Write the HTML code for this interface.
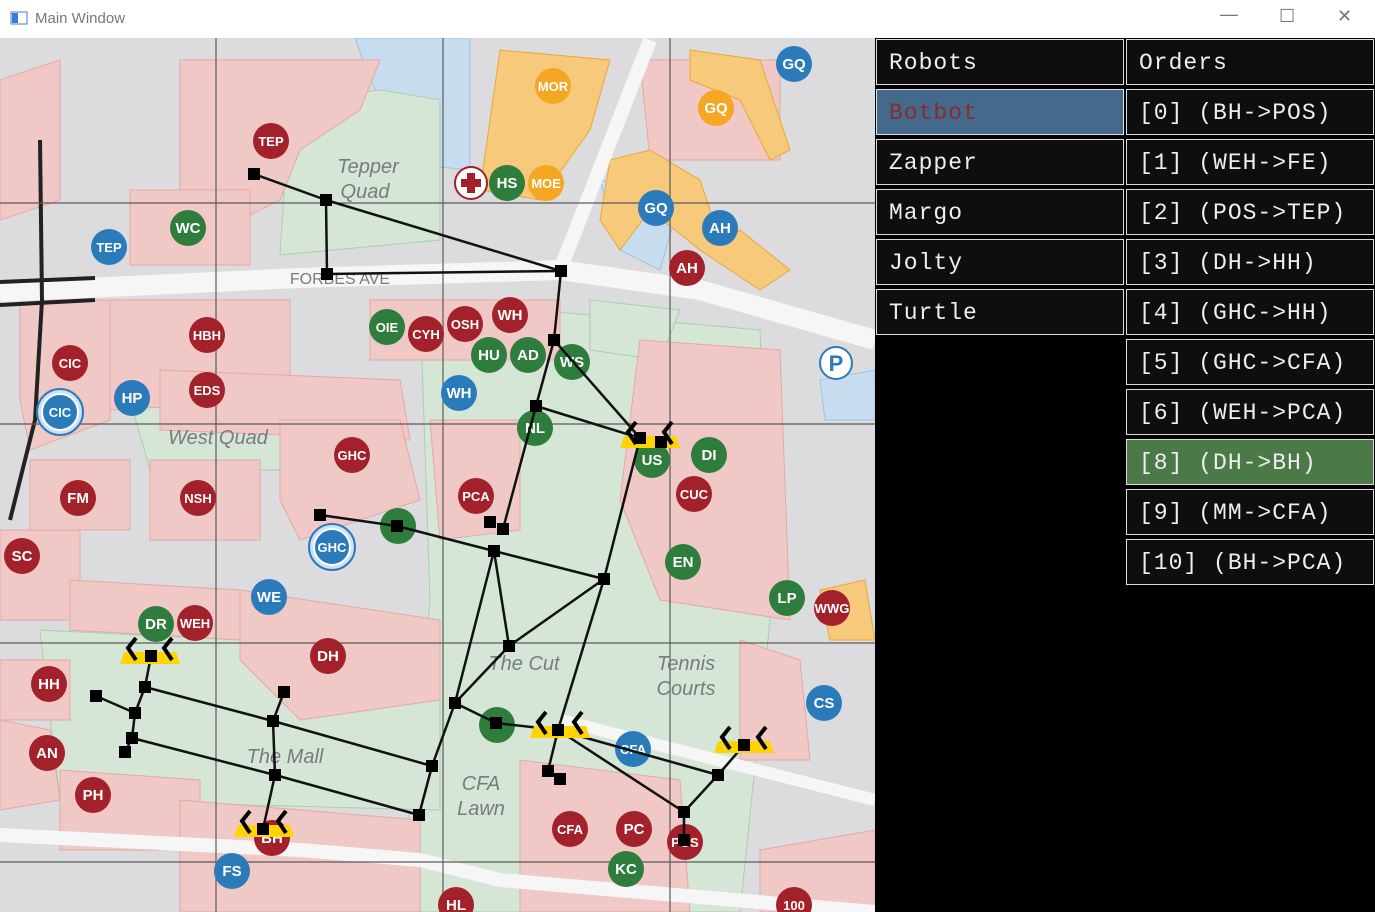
<!DOCTYPE html>
<html><head><meta charset="utf-8"><style>
body{margin:0;width:1375px;height:912px;overflow:hidden;background:#fff;font-family:"Liberation Sans",sans-serif}
#title{position:absolute;left:0;top:0;width:1375px;height:38px;background:#fff}
#title span{position:absolute;left:35px;top:10px;font-size:15px;color:#777}
#map{position:absolute;left:0;top:38px}
#panel{position:absolute;left:875px;top:38px;width:500px;height:874px;background:#000}
.cell{position:absolute;height:46px;background:#0e0e0e;border:1px solid #ddd;color:#eee;font-family:"Liberation Mono",monospace;font-size:23px;line-height:46px;padding-left:12px;box-sizing:border-box;letter-spacing:1px}
</style></head><body>
<div id="title">
<svg width="20" height="16" style="position:absolute;left:10px;top:11px"><rect x="1" y="1" width="16" height="12" fill="none" stroke="#3a7bd5"/><rect x="2" y="2" width="6" height="10" fill="#3a7bd5"/></svg>
<span>Main Window</span>
<span style="left:1220px;top:4px;font-size:18px">—</span>
<span style="left:1279px;top:6px;font-size:18px">☐</span>
<span style="left:1337px;top:6px;font-size:18px">✕</span>
</div>
<svg id="map" width="875" height="874" viewBox="0 38 875 874">
<rect x="0" y="38" width="875" height="874" fill="#dcdcde"/>
<g fill="#c8dcef" stroke="#9cc3e3"><polygon points="355,38 470,38 470,170 420,165 370,80"/><polygon points="600,180 680,200 660,270 620,250"/><polygon points="820,380 875,370 875,420 825,420"/><polygon points="560,720 710,740 705,770 560,750"/></g>
<g fill="#d5e6d7" stroke="#a8d0ad"><polygon points="290,100 380,90 440,100 440,240 280,255"/><polygon points="130,400 330,410 320,470 150,470"/><polygon points="420,300 760,330 770,620 740,912 400,912 430,600"/><polygon points="40,630 440,650 440,810 60,800"/><polygon points="590,300 680,310 660,360 590,350"/></g>
<g fill="#f0c9c6" stroke="#e4a9a4">
<polygon points="180,60 380,60 360,110 300,150 280,200 250,215 180,200"/>
<polygon points="130,190 250,190 250,265 130,265"/>
<polygon points="20,300 110,300 110,420 30,450 20,400"/>
<polygon points="110,300 290,300 290,400 110,410"/>
<polygon points="160,370 400,380 410,440 160,430"/>
<polygon points="30,460 130,460 130,530 30,530"/>
<polygon points="150,460 260,460 260,540 150,540"/>
<polygon points="280,420 400,420 420,500 300,540 280,500"/>
<polygon points="0,530 80,530 80,620 0,620"/>
<polygon points="70,580 240,590 240,640 70,630"/>
<polygon points="240,590 440,620 440,700 300,720 240,660"/>
<polygon points="0,660 70,660 70,720 0,720"/>
<polygon points="0,720 50,730 60,800 0,810"/>
<polygon points="60,770 200,780 200,850 60,850"/>
<polygon points="180,800 420,820 420,912 180,912"/>
<polygon points="430,420 520,420 520,530 440,540"/>
<polygon points="640,340 780,350 790,620 660,600 620,500"/>
<polygon points="520,760 680,780 690,912 520,912"/>
<polygon points="740,640 800,660 810,760 740,760"/>
<polygon points="760,850 875,830 875,912 760,912"/>
<polygon points="370,300 560,300 560,360 370,360"/>
<polygon points="640,60 780,60 780,160 650,160"/>
<polygon points="0,80 60,60 60,200 0,220"/>
</g>
<g fill="#f7c97a" stroke="#e8a83a"><polygon points="500,50 610,60 590,130 540,200 480,190"/><polygon points="690,50 760,60 790,150 770,160 740,100 690,80"/><polygon points="610,160 650,150 700,180 720,240 740,230 790,270 760,290 700,250 650,210 620,250 600,220"/><polygon points="820,590 865,580 875,640 830,640"/></g>
<g fill="none" stroke="#f6f6f6" stroke-width="20"><polyline points="0,292 300,278 560,270 700,290 875,340"/><polyline points="650,40 560,270" stroke-width="14"/><polyline points="0,835 300,850 420,860 500,880 875,912" stroke-width="14"/><polyline points="560,720 875,800" stroke-width="12"/></g>
<g stroke="#222" stroke-width="4" fill="none"><line x1="0" y1="282" x2="95" y2="278"/><line x1="0" y1="305" x2="95" y2="300"/><polyline points="40,140 42,300 35,420 10,520"/></g>
<g id="grid" stroke="#5a5a5a" stroke-width="1.2"></g>
<g font-family="Liberation Sans" font-style="italic" font-size="20" fill="#7a7a80" text-anchor="middle">
<text x="368" y="173">Tepper</text><text x="365" y="198">Quad</text><text x="218" y="444">West Quad</text><text x="524" y="670">The Cut</text><text x="686" y="670">Tennis</text><text x="686" y="695">Courts</text><text x="285" y="763">The Mall</text><text x="481" y="790">CFA</text><text x="481" y="815">Lawn</text><text x="340" y="284" font-style="normal" font-size="16">FORBES AVE</text></g>
<g id="markers"></g>
<g id="edges" stroke="#111" stroke-width="2.5"></g>
<g id="robots"></g>
<g id="nodes" fill="#000"></g>
</svg>
<div id="panel"></div>
<script>
const NS="http://www.w3.org/2000/svg";
const gridX=[216,443,670], gridY=[203,424,643,862];
const markerLabels=["TEP","WC","TEP","HBH","CIC","CIC","HP","EDS","GHC","FM","NSH","SC","GHC","WE","DR","WEH","DH","HH","AN","PH","FS","BH","OIE","CYH","OSH","WH","HU","AD","WS","WH","NL","PCA","US","DI","CUC","EN","LP","WWG","CS","CFA","CFA","PC","POS","KC","MOR","GQ","GQ","HS","MOE","GQ","AH","AH","","","HL","100"];
const markerX=[271,188,109,207,70,60,132,207,352,78,198,22,332,269,156,195,328,49,47,93,232,272,387,426,465,510,489,528,572,459,535,476,652,709,694,683,787,832,824,633,570,634,685,626,553,716,794,507,546,656,720,687,398,497,456,794];
const markerY=[141,228,247,335,363,412,398,390,455,498,498,556,547,597,624,623,656,684,753,795,871,838,327,334,324,315,355,355,362,393,428,496,460,455,494,562,598,608,703,749,829,829,842,869,86,108,64,183,183,208,228,268,526,725,905,905];
const markerKind=["r","g","b","r","r","b","b","r","r","r","r","r","b","b","g","r","r","r","r","r","b","r","g","r","r","r","g","g","g","b","g","r","g","g","r","g","g","r","b","b","r","r","r","g","o","o","b","g","o","b","b","r","g","g","r","r"];
const nodeNames=["A","B","C","D","E","F","G","H","I","J","K","L","M","N","O","P","Q","R","S","T","U","V","W","X","Y","Z","a","b","c","d","e","f","g","h","i","j"];
const nodeX=[254,326,327,561,554,536,640,661,490,503,494,397,320,604,509,455,496,558,548,560,718,744,684,684,432,419,151,145,96,135,132,125,284,273,275,263];
const nodeY=[174,200,274,271,340,406,438,442,522,529,551,526,515,579,646,703,723,730,771,779,775,745,812,840,766,815,656,687,696,713,738,752,692,721,775,829];
const edgeList=["A-B","B-C","C-D","B-D","D-E","E-F","E-G","F-G","G-H","F-J","G-N","M-L","L-K","K-N","K-P","K-O","N-O","N-R","O-P","P-Q","Q-R","P-Y","Y-Z","R-U","R-W","U-V","U-W","W-X","R-S","S-T","a-b","b-d","c-d","d-e","e-f","b-h","h-Y","h-g","h-i","e-i","i-Z","i-j"];
const robotX=[150,264,560,650,744], robotY=[656,829,730,440,745];
const colors={r:"#a3212b",g:"#2e7d3c",b:"#2b7bbb",o:"#f5a623"};
const map={};nodeNames.forEach((n,i)=>map[n]=i);
function mk(t,a,p){const e=document.createElementNS(NS,t);for(const k in a)e.setAttribute(k,a[k]);p.appendChild(e);return e;}
const grid=document.getElementById('grid');
gridX.forEach(x=>{const l=mk('line',{x1:x,y1:38,x2:x,y2:912},grid);

});
gridY.forEach(y=>{const l=mk('line',{x1:0,y1:y,x2:875,y2:y},grid);

});
const mg=document.getElementById('markers');
markerLabels.forEach((t,i)=>{const g=mk('g',{},mg);


const big=(i==5||i==12);
if(big)mk('circle',{cx:markerX[i],cy:markerY[i],r:23,fill:'#cfe0f0',stroke:colors.b,'stroke-width':2},g);
mk('circle',{cx:markerX[i],cy:markerY[i],r:18,fill:colors[markerKind[i]],stroke:big?'#fff':'none','stroke-width':2},g);
const tx=mk('text',{x:markerX[i],y:markerY[i]+5,'text-anchor':'middle','font-size':t.length>2?13:15,'font-weight':'bold',fill:'#fff','font-family':'Liberation Sans'},g);tx.textContent=t;});
// parking & medical
const pk=mk('g',{},mg);
mk('circle',{cx:836,cy:363,r:16,fill:'#fff',stroke:'#2b7bbb','stroke-width':2},pk);
const pt=mk('text',{x:836,y:371,'text-anchor':'middle','font-size':22,'font-weight':'bold',fill:'#2b7bbb'},pk);pt.textContent='P';
const md=mk('g',{},mg);
mk('circle',{cx:471,cy:183,r:16,fill:'#fff',stroke:'#a3212b','stroke-width':2},md);
mk('rect',{x:467,y:173,width:8,height:20,fill:'#a3212b'},md);mk('rect',{x:461,y:179,width:20,height:8,fill:'#a3212b'},md);
const eg=document.getElementById('edges');
edgeList.forEach(s=>{const [p,q]=s.split('-').map(n=>map[n]);const l=mk('line',{x1:nodeX[p],y1:nodeY[p],x2:nodeX[q],y2:nodeY[q]},eg);

});
const rg=document.getElementById('robots');
robotX.forEach((x,i)=>{const y=robotY[i];const g=mk('g',{},rg);


mk('polygon',{points:`${x-30},${y+8} ${x-26},${y-4} ${x+26},${y-4} ${x+30},${y+8}`,fill:'#ffd400'},g);
[-22,14].forEach(dx=>mk('polyline',{points:`${x+dx+8},${y-18} ${x+dx},${y-8} ${x+dx+8},${y+4}`,fill:'none',stroke:'#000','stroke-width':4},g));});
const ng=document.getElementById('nodes');
nodeNames.forEach((n,i)=>{const r=mk('rect',{x:nodeX[i]-6,y:nodeY[i]-6,width:12,height:12},ng);

});
// panel
const robots=["Robots","Botbot","Zapper","Margo","Jolty","Turtle"];
const orders=["Orders","[0] (BH->POS)","[1] (WEH->FE)","[2] (POS->TEP)","[3] (DH->HH)","[4] (GHC->HH)","[5] (GHC->CFA)","[6] (WEH->PCA)","[8] (DH->BH)","[9] (MM->CFA)","[10] (BH->PCA)"];
const panel=document.getElementById('panel');
function cell(txt,left,i,cls){const d=document.createElement('div');d.className='cell';d.textContent=txt;
d.style.left=left+'px';d.style.top=(1+i*50)+'px';d.style.width='248px';return d;}
robots.forEach((t,i)=>{const d=cell(t,1,i);if(i==1){d.style.background='#436a8a';d.style.color='#8e2a2e';}


panel.appendChild(d);});
orders.forEach((t,i)=>{const d=cell(t,251,i);if(i==8){d.style.background='#4b7a48';}


panel.appendChild(d);});
</script>
</body></html>
